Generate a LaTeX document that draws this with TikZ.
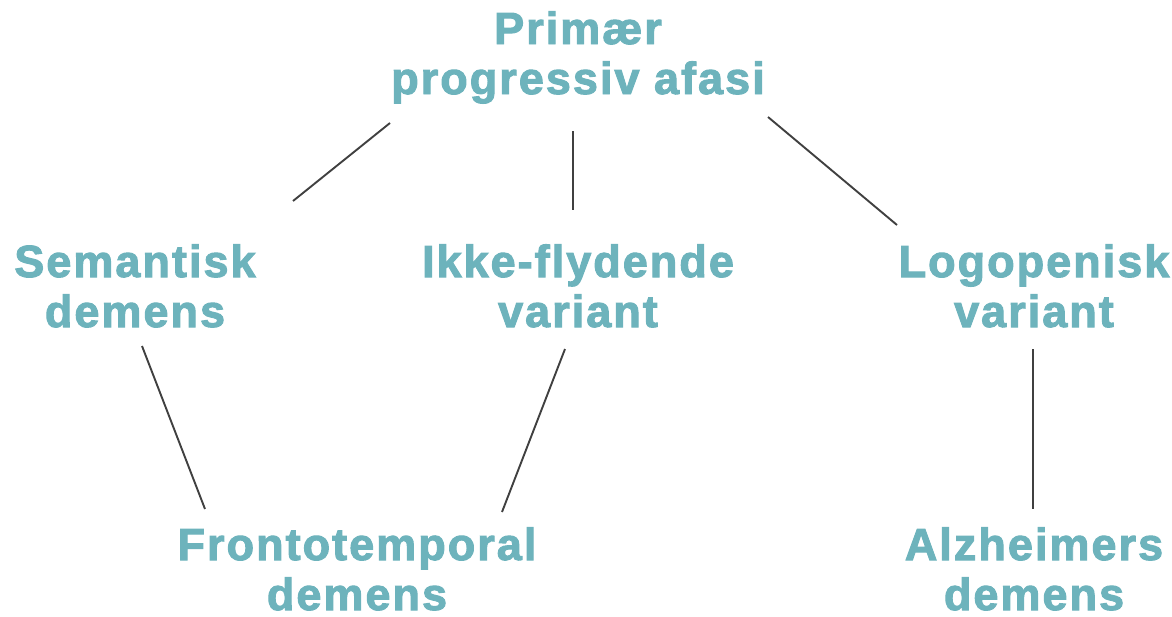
\documentclass[tikz,border=0pt]{standalone}
\usepackage{fontspec}
\newfontfamily\lblfont{Liberation Sans}[LetterSpace=4.5,BoldFeatures={FakeBold=2.2}]
\definecolor{teal1}{HTML}{6DB3BC}
\definecolor{linec}{HTML}{404040}
\begin{document}
\begin{tikzpicture}[x=1pt,y=-1pt,
  lbl/.style={text=teal1,font=\lblfont\bfseries\fontsize{45}{50}\selectfont,align=center,inner sep=0pt,anchor=base},
  conn/.style={draw=linec,line width=1.9pt}]
\useasboundingbox (0,0) rectangle (1172,616);
\node[lbl] (ppa) at (578,94) {Primær\\progressiv afasi};
\node[lbl] (sem) at (135,327) {Semantisk\\demens};
\node[lbl] (ikke) at (578,327) {Ikke-flydende\\variant};
\node[lbl] (logo) at (1034,327) {Logopenisk\\variant};
\node[lbl,text depth=0pt] (ftd) at (357,610) {Frontotemporal\\demens};
\node[lbl,text depth=0pt] (alz) at (1034,610) {Alzheimers\\demens};
\coordinate (a1) at (390,123); \coordinate (a2) at (293,201);
\coordinate (b1) at (573,131); \coordinate (b2) at (573,210);
\coordinate (c1) at (768,117); \coordinate (c2) at (897,225);
\coordinate (d1) at (142,346); \coordinate (d2) at (205,509);
\coordinate (e1) at (565,349); \coordinate (e2) at (502,512);
\coordinate (f1) at (1033,349); \coordinate (f2) at (1033,509);
\draw[conn] (a1) -- (a2);
\draw[conn] (b1) -- (b2);
\draw[conn] (c1) -- (c2);
\draw[conn] (d1) -- (d2);
\draw[conn] (e1) -- (e2);
\draw[conn] (f1) -- (f2);
\end{tikzpicture}
\end{document}
